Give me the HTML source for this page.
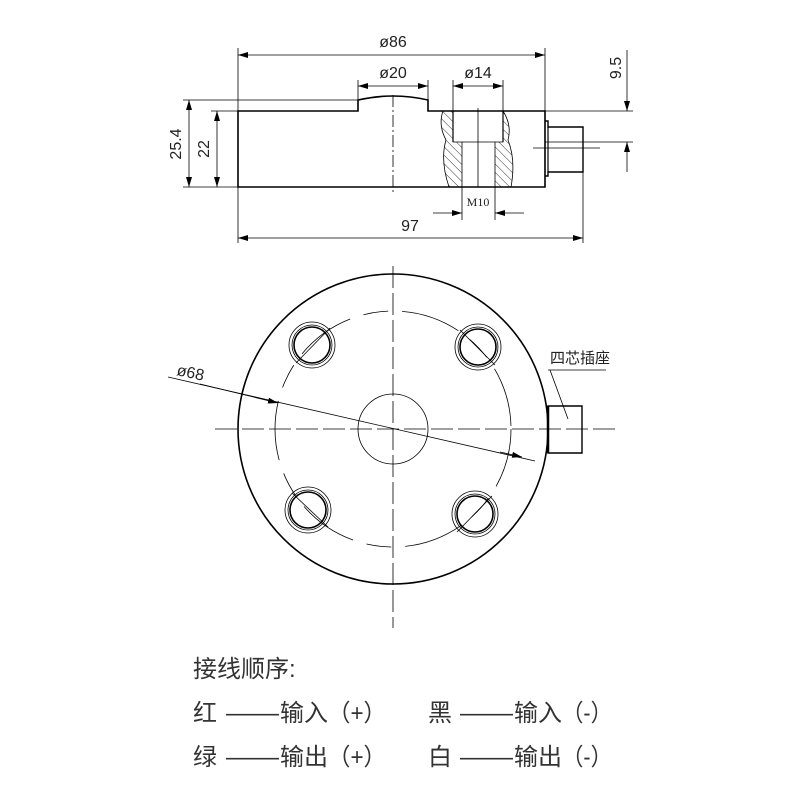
<!DOCTYPE html>
<html><head><meta charset="utf-8"><style>
html,body{margin:0;padding:0;background:#fff;width:800px;height:800px;overflow:hidden}
svg{display:block}
.t{font-family:"Liberation Sans","Noto Sans CJK SC",sans-serif;fill:#222}
</style></head><body>
<svg width="800" height="800" viewBox="0 0 800 800" xmlns="http://www.w3.org/2000/svg">
<defs>
<marker id="a" viewBox="0 0 10 6" refX="10" refY="3" markerWidth="10" markerHeight="6" orient="auto-start-reverse" markerUnits="userSpaceOnUse"><path d="M0,0 L10,3 L0,6 Z" fill="#000"/></marker>
<pattern id="h" width="6" height="6" patternUnits="userSpaceOnUse" patternTransform="rotate(-45)"><line x1="0" y1="0" x2="0" y2="6" stroke="#000" stroke-width="0.8"/></pattern>
</defs>
<g stroke="#000" fill="none" stroke-width="0.8">
<line x1="238" y1="48" x2="238" y2="243"/>
<line x1="545" y1="48" x2="545" y2="111"/>
<line x1="238" y1="55" x2="545" y2="55" marker-start="url(#a)" marker-end="url(#a)"/>
<line x1="358" y1="80" x2="358" y2="100"/><line x1="428" y1="80" x2="428" y2="100"/>
<line x1="358" y1="86" x2="428" y2="86" marker-start="url(#a)" marker-end="url(#a)"/>
<line x1="453" y1="80" x2="453" y2="111"/><line x1="503" y1="80" x2="503" y2="111"/>
<line x1="453" y1="86" x2="503" y2="86" marker-start="url(#a)" marker-end="url(#a)"/>
<line x1="183" y1="100" x2="358" y2="100"/>
<line x1="211" y1="111" x2="238" y2="111"/>
<line x1="183" y1="187" x2="238" y2="187"/>
<line x1="189" y1="100" x2="189" y2="187" marker-start="url(#a)" marker-end="url(#a)"/>
<line x1="217" y1="111" x2="217" y2="187" marker-start="url(#a)" marker-end="url(#a)"/>
<line x1="545" y1="111" x2="633" y2="111"/>
<line x1="545" y1="142" x2="633" y2="142"/>
<line x1="627" y1="50" x2="627" y2="111" marker-end="url(#a)"/>
<line x1="627" y1="172" x2="627" y2="142" marker-end="url(#a)"/>
<line x1="583" y1="172" x2="583" y2="243"/>
<line x1="238" y1="238" x2="583" y2="238" marker-start="url(#a)" marker-end="url(#a)"/>
<line x1="462" y1="187" x2="462" y2="220"/><line x1="495" y1="187" x2="495" y2="220"/>
<line x1="433" y1="213" x2="462" y2="213" marker-end="url(#a)"/>
<line x1="524" y1="213" x2="495" y2="213" marker-end="url(#a)"/>
<line x1="393" y1="95" x2="393" y2="195" stroke-dasharray="12,3,2,3"/>
<line x1="478" y1="108" x2="478" y2="187"/>
<line x1="533" y1="148" x2="600" y2="148"/>
<path d="M443,111 Q438,125 446,140 Q440,160 449,187 L462,187 L462,142 L453,142 L453,111 Z" fill="url(#h)"/>
<path d="M503,111 Q512,125 508,140 Q516,160 511,187 L495,187 L495,142 L503,142 Z" fill="url(#h)"/>
<line x1="462" y1="142" x2="495" y2="142"/>
<path d="M238,111 H358 V100 Q393,92 428,100 V111 H545 V187 H238 Z" stroke-width="1.6"/>
<line x1="453" y1="111" x2="453" y2="142" stroke-width="1.2"/><line x1="503" y1="111" x2="503" y2="142" stroke-width="1.2"/>
<path d="M545,121 H548 V127 H583 V172 H548 V176 H545" stroke-width="1.4"/>
<line x1="548" y1="127" x2="548" y2="172" stroke-width="1.2"/>
<line x1="393" y1="266" x2="393" y2="628" stroke-dasharray="22,5"/>
<line x1="215" y1="429" x2="615" y2="429" stroke-dasharray="22,5"/>
<circle cx="393" cy="429" r="155" stroke-width="1.6"/>
<circle cx="393" cy="429" r="35"/>
<circle cx="393" cy="429" r="118" stroke-dasharray="60,14,25,14"/>
<line x1="168" y1="377" x2="535" y2="461"/>
<line x1="200" y1="384" x2="278" y2="403" marker-end="url(#a)"/>
<line x1="500" y1="452" x2="522" y2="457" marker-end="url(#a)"/>
<g>
<circle cx="312" cy="345" r="23"/><circle cx="312" cy="345" r="18" stroke-width="1.6"/><circle cx="312" cy="345" r="20"/>
<circle cx="478" cy="347" r="23"/><circle cx="478" cy="347" r="18" stroke-width="1.6"/><circle cx="478" cy="347" r="20"/>
<circle cx="308" cy="510" r="23"/><circle cx="308" cy="510" r="18" stroke-width="1.6"/><circle cx="308" cy="510" r="20"/>
<circle cx="475" cy="514" r="23"/><circle cx="475" cy="514" r="18" stroke-width="1.6"/><circle cx="475" cy="514" r="20"/>
<line x1="296" y1="363" x2="330" y2="328"/><line x1="460" y1="330" x2="495" y2="365"/>
<line x1="292" y1="493" x2="328" y2="527"/><line x1="457" y1="532" x2="492" y2="496"/>
</g>
<path d="M548,406 H582 V453 H548 Z" stroke-width="1.4"/>
<line x1="548" y1="406" x2="548" y2="453" stroke-width="2.5"/>
<line x1="548" y1="370" x2="606" y2="370"/>
<line x1="550" y1="370" x2="568" y2="419"/>
</g>
<g class="t">
<text x="393" y="47" font-size="16" text-anchor="middle">ø86</text>
<text x="393" y="78" font-size="16" text-anchor="middle">ø20</text>
<text x="478" y="78" font-size="16" text-anchor="middle">ø14</text>
<text x="410" y="231" font-size="16" text-anchor="middle">97</text>
<text x="478" y="206" font-size="12" text-anchor="middle" font-family="Liberation Serif,serif">M10</text>
<text transform="translate(181,144) rotate(-90)" font-size="16" text-anchor="middle">25.4</text>
<text transform="translate(209,149) rotate(-90)" font-size="16" text-anchor="middle">22</text>
<text transform="translate(621,68) rotate(-90)" font-size="16" text-anchor="middle">9.5</text>
<text x="176" y="375" font-size="16" transform="rotate(12 176 375)">ø68</text>
<text x="550" y="363" font-size="15">四芯插座</text>
<g font-size="24" fill="#333">
<text x="193" y="677">接线顺序:</text>
<text x="193" y="721">红</text><text x="226" y="721" textLength="53" lengthAdjust="spacingAndGlyphs">——</text><text x="280" y="721">输入</text><text x="328" y="721" textLength="58" lengthAdjust="spacingAndGlyphs">（+）</text>
<text x="428" y="721">黑</text><text x="460" y="721" textLength="53" lengthAdjust="spacingAndGlyphs">——</text><text x="514" y="721">输入</text><text x="562" y="721" textLength="50" lengthAdjust="spacingAndGlyphs">（-）</text>
<text x="193" y="765">绿</text><text x="226" y="765" textLength="53" lengthAdjust="spacingAndGlyphs">——</text><text x="280" y="765">输出</text><text x="328" y="765" textLength="58" lengthAdjust="spacingAndGlyphs">（+）</text>
<text x="428" y="765">白</text><text x="460" y="765" textLength="53" lengthAdjust="spacingAndGlyphs">——</text><text x="514" y="765">输出</text><text x="562" y="765" textLength="50" lengthAdjust="spacingAndGlyphs">（-）</text>
</g>
</g>
</svg>
</body></html>
